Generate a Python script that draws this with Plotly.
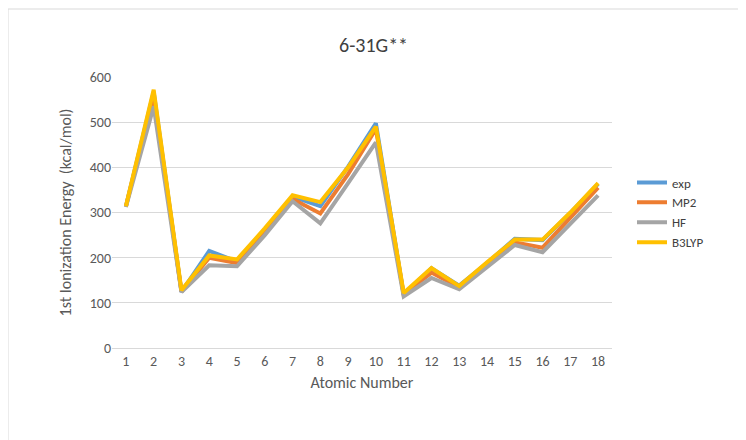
import plotly.graph_objects as go

atomic_number = list(range(1, 19))
exp = [313.6, 566.9, 124.3, 214.9, 191.4, 259.7, 335.2, 314.0, 401.7, 497.2, 118.5, 176.3, 138.0, 187.9, 241.8, 238.9, 299.1, 363.4]
mp2 = [313, 560, 125, 200, 188, 255, 330, 298, 385, 485, 118, 167, 134, 183, 234, 222, 290, 355]
hf = [312, 535, 124, 183, 181, 250, 325, 276, 365, 455, 114, 155, 130, 178, 228, 212, 275, 338]
b3lyp = [314, 572, 128, 205, 196, 265, 338, 323, 400, 490, 122, 177, 137, 190, 240, 240, 300, 365]

series = [("exp", exp, "#5B9BD5"), ("MP2", mp2, "#ED7D31"), ("HF", hf, "#A5A5A5"), ("B3LYP", b3lyp, "#FFC000")]

fig = go.Figure()
for name, vals, col in series:
    fig.add_trace(go.Scatter(x=atomic_number, y=vals, name=name, mode="lines",
                             line=dict(color=col, width=4)))

font = "Calibri, Carlito, 'Open Sans', sans-serif"
fig.update_layout(
    width=746, height=440, paper_bgcolor="white", plot_bgcolor="white",
    margin=dict(l=104, r=142, t=69, b=100),
    font=dict(family=font, color="#595959", size=14),
    title=dict(text="6-31G**", x=0.49, xanchor="center", y=0.915, yanchor="middle",
               font=dict(size=20, color="#404040")),
    legend=dict(x=1.04, y=0.5, yanchor="middle", font=dict(size=13, color="#404040"),
                tracegroupgap=4),
    xaxis=dict(range=[0.5, 18.5], tickmode="array", tickvals=atomic_number,
               ticktext=[str(a) for a in atomic_number], showgrid=False,
               showline=True, linecolor="#D9D9D9", zeroline=False,
               title=dict(text="Atomic Number", font=dict(size=16, color="#595959"), standoff=8)),
    yaxis=dict(range=[0, 600], dtick=100, showgrid=True, gridcolor="#D9D9D9",
               zeroline=False, showline=False,
               title=dict(text="1st Ionization Energy  (kcal/mol)", font=dict(size=16, color="#595959"), standoff=14)),
    shapes=[dict(type="rect", xref="paper", yref="paper", x0=-104/500, x1=1+141/500,
                 y0=-99/271, y1=1+68/271, line=dict(color="#D9D9D9", width=1))],
)
fig.write_html("out.html")
